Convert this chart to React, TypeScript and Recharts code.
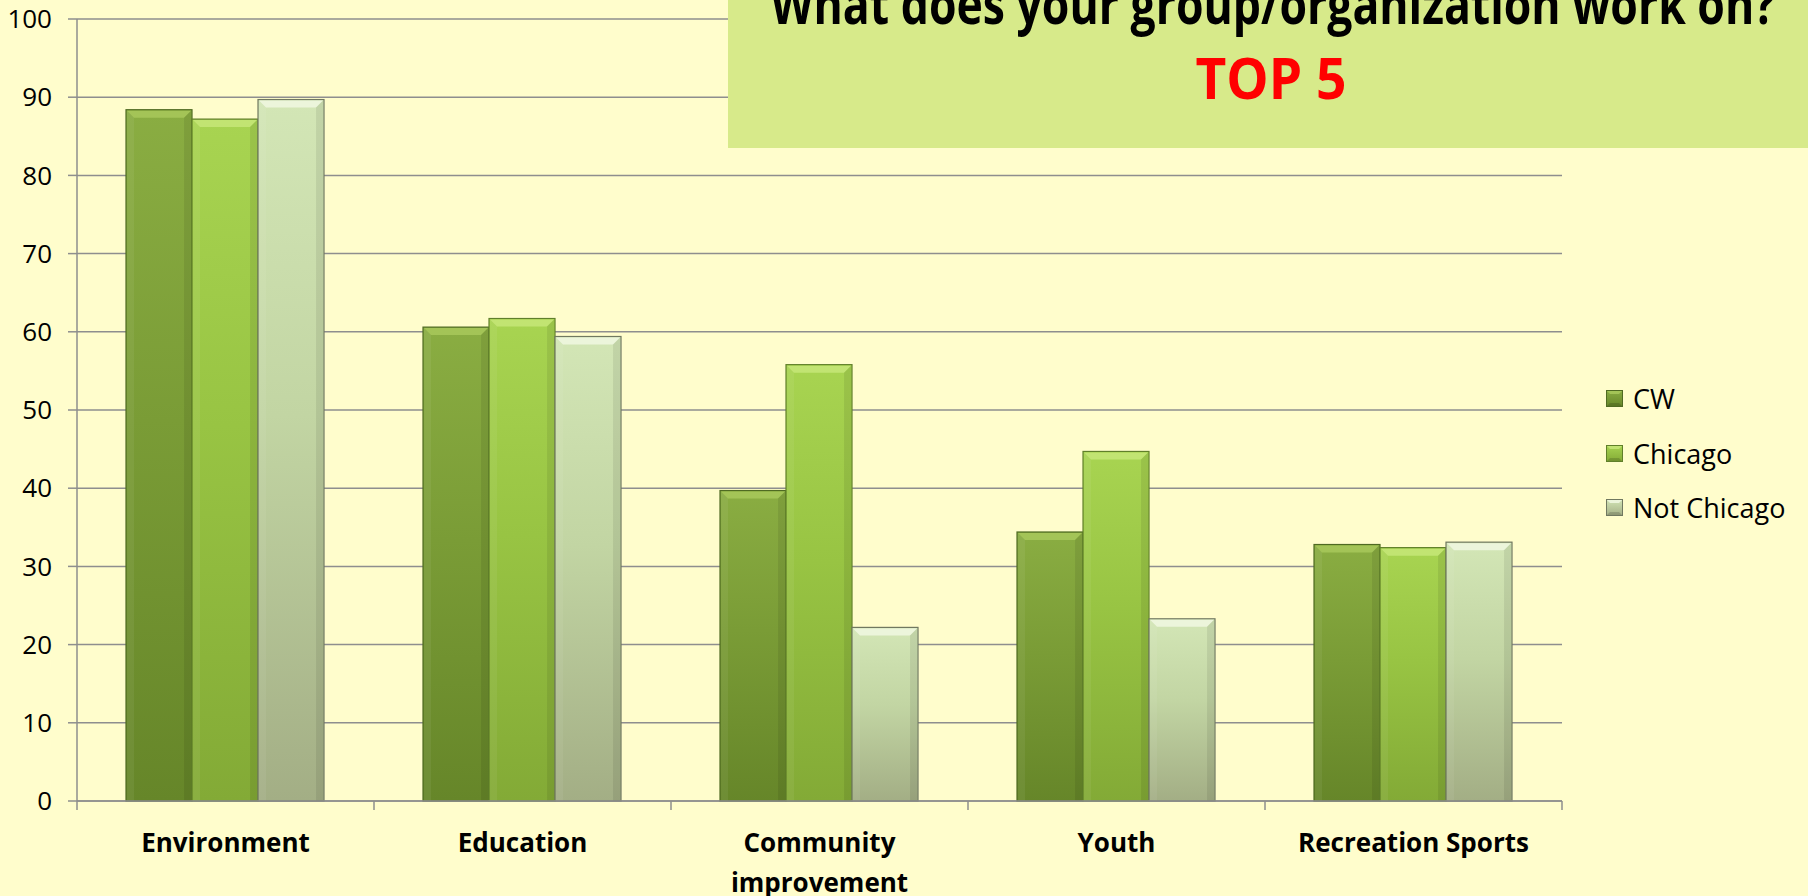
import React from 'react';
import { BarChart, Bar, XAxis, YAxis, CartesianGrid } from 'recharts';

const categories = ['Environment', 'Education', 'Community improvement', 'Youth', 'Recreation Sports'];
const cwValues = [88.4, 60.6, 39.7, 34.4, 32.8];
const chicagoValues = [87.2, 61.7, 55.8, 44.7, 32.4];
const notChicagoValues = [89.7, 59.4, 22.2, 23.3, 33.1];
const seriesNames = ['CW', 'Chicago', 'Not Chicago'];
const yTicks = [0, 10, 20, 30, 40, 50, 60, 70, 80, 90, 100];
const titleLine = 'What does your group/organization work on?';
const subtitleLine = 'TOP 5';

const data = categories.map((c, i) => ({
  name: c,
  cw: cwValues[i],
  chicago: chicagoValues[i],
  notChicago: notChicagoValues[i],
}));

const W = 1808;
const H = 896;
const MARGIN = { top: 19, right: 246, bottom: 0, left: 0 };
const Y_AXIS_W = 77;
const X_AXIS_H = 95;
const PLOT_W = W - MARGIN.left - MARGIN.right - Y_AXIS_W;
const BAND = PLOT_W / categories.length;

const BG = '#FFFDCC';
const GRID = '#8e8e8e';
const FONT = "'Open Sans', 'Noto Sans', sans-serif";
const XFONT = `700 26px ${FONT}`;

const palette = [
  { top: '#8aad42', mid: '#7a9c36', bot: '#668629', bevel: '#a6c65a', border: '#4f6a22' },
  { top: '#a8d451', mid: '#98c443', bot: '#83aa36', bevel: '#c4e675', border: '#607f2a' },
  { top: '#d3e6b6', mid: '#c2d5a3', bot: '#a3ae85', bevel: '#eef6df', border: '#707860' },
];

let measureCtx: CanvasRenderingContext2D | null = null;
function textWidth(s: string): number {
  if (typeof document === 'undefined') return s.length * 15;
  if (!measureCtx) {
    const c = document.createElement('canvas');
    measureCtx = c.getContext('2d');
  }
  if (!measureCtx) return s.length * 15;
  measureCtx.font = XFONT;
  return measureCtx.measureText(s).width;
}

function wrapLabel(label: string, maxW: number): string[] {
  const words = label.split(' ');
  const lines: string[] = [];
  let cur = '';
  for (const w of words) {
    const t = cur ? cur + ' ' + w : w;
    if (cur && textWidth(t) > maxW) {
      lines.push(cur);
      cur = w;
    } else {
      cur = t;
    }
  }
  if (cur) lines.push(cur);
  return lines;
}

function BevelBar(props: any) {
  const { x, y, width, height, s } = props;
  if (!width || !height || height <= 0) return null;
  const c = palette[s];
  const b = Math.min(8, height / 2, width / 2);
  return (
    <g>
      <rect x={x} y={y} width={width} height={height} fill={`url(#grad${s})`} stroke={c.border} strokeWidth={1.2} />
      <polygon
        points={`${x + 1},${y + 1} ${x + width - 1},${y + 1} ${x + width - b},${y + b} ${x + b},${y + b}`}
        fill={c.bevel}
        opacity={0.9}
      />
      <polygon
        points={`${x + 1},${y + 1} ${x + b},${y + b} ${x + b},${y + height} ${x + 1},${y + height}`}
        fill="#ffffff"
        opacity={0.06}
      />
      <polygon
        points={`${x + width - 1},${y + 1} ${x + width - b},${y + b} ${x + width - b},${y + height} ${x + width - 1},${y + height}`}
        fill="#000000"
        opacity={0.08}
      />
    </g>
  );
}

function XTick(props: any) {
  const { x, y, payload, index } = props;
  const half = BAND / 2;
  const lines = wrapLabel(String(payload.value), BAND - 20);
  return (
    <g>
      <line x1={x - half} y1={y} x2={x - half} y2={y + 9} stroke={GRID} strokeWidth={1.5} />
      {index === categories.length - 1 && (
        <line x1={x + half} y1={y} x2={x + half} y2={y + 9} stroke={GRID} strokeWidth={1.5} />
      )}
      <text
        x={x}
        y={y + 51}
        textAnchor="middle"
        fill="#000"
        style={{ fontSize: 26, fontWeight: 700, fontFamily: FONT }}
      >
        {lines.map((l, i) => (
          <tspan key={i} x={x} dy={i === 0 ? 0 : 40}>
            {l}
          </tspan>
        ))}
      </text>
    </g>
  );
}

function LegendBox() {
  return (
    <div
      style={{
        position: 'absolute',
        left: 1606,
        top: 371,
        fontFamily: FONT,
        fontSize: 27,
        color: '#000',
        lineHeight: 1,
      }}
    >
      {seriesNames.map((n, i) => (
        <div key={n} style={{ display: 'flex', alignItems: 'center', height: 54.7 }}>
          <svg width={17} height={17} style={{ marginRight: 10, flex: 'none' }}>
            <defs>
              <linearGradient id={`lgrad${i}`} x1="0" y1="0" x2="0" y2="1">
                <stop offset="0%" stopColor={palette[i].top} />
                <stop offset="100%" stopColor={palette[i].bot} />
              </linearGradient>
            </defs>
            <rect x={0} y={0} width={17} height={17} fill={`url(#lgrad${i})`} />
            <polygon points="0,0 17,0 13,4 4,4" fill={palette[i].bevel} opacity={0.9} />
            <polygon points="0,17 17,17 13,13 4,13" fill="#000" opacity={0.15} />
            <rect x={0.5} y={0.5} width={16} height={16} fill="none" stroke={palette[i].border} strokeWidth={1} />
          </svg>
          <span style={{ whiteSpace: 'nowrap' }}>{n}</span>
        </div>
      ))}
    </div>
  );
}

export default function App() {
  return (
    <div style={{ position: 'absolute', left: 0, top: 0, width: W, height: H, background: BG, overflow: 'hidden' }}>
      <BarChart
        width={W}
        height={H}
        data={data}
        margin={MARGIN}
        barGap={0}
        barCategoryGap="16.5%"
      >
        <defs>
          {palette.map((c, i) => (
            <linearGradient key={i} id={`grad${i}`} x1="0" y1="0" x2="0" y2="1">
              <stop offset="0%" stopColor={c.top} />
              <stop offset="45%" stopColor={c.mid} />
              <stop offset="100%" stopColor={c.bot} />
            </linearGradient>
          ))}
        </defs>
        <CartesianGrid vertical={false} stroke={GRID} strokeWidth={1.5} />
        <XAxis
          dataKey="name"
          interval={0}
          height={X_AXIS_H}
          tickLine={false}
          tickSize={0}
          tickMargin={0}
          axisLine={{ stroke: GRID, strokeWidth: 1.5 }}
          tick={<XTick />}
        />
        <YAxis
          domain={[0, 100]}
          ticks={yTicks}
          width={Y_AXIS_W}
          tickSize={9}
          tickMargin={16}
          interval={0}
          axisLine={{ stroke: GRID, strokeWidth: 1.5 }}
          tickLine={{ stroke: GRID, strokeWidth: 1.5 }}
          tick={{ fill: '#000', fontSize: 26, fontFamily: FONT }}
        />
        <Bar dataKey="cw" name={seriesNames[0]} isAnimationActive={false} shape={(p: any) => <BevelBar {...p} s={0} />} />
        <Bar dataKey="chicago" name={seriesNames[1]} isAnimationActive={false} shape={(p: any) => <BevelBar {...p} s={1} />} />
        <Bar dataKey="notChicago" name={seriesNames[2]} isAnimationActive={false} shape={(p: any) => <BevelBar {...p} s={2} />} />
      </BarChart>
      <LegendBox />
      <svg
        width={W - 728}
        height={148}
        style={{ position: 'absolute', left: 728, top: 0 }}
      >
        <rect x={0} y={0} width={W - 728} height={148} fill="#D7EA8A" />
        <text
          x={1273 - 728}
          y={24}
          textAnchor="middle"
          fontFamily="'Liberation Sans Narrow', 'Open Sans', sans-serif"
          fontWeight={700}
          fontSize={56}
          fill="#000"
          textLength={1005}
          lengthAdjust="spacingAndGlyphs"
        >
          {titleLine}
        </text>
        <text
          x={1271 - 728}
          y={99}
          textAnchor="middle"
          fontFamily="'Liberation Sans Narrow', 'Open Sans', sans-serif"
          fontWeight={700}
          fontSize={57}
          fill="#FF0000"
          textLength={151}
          lengthAdjust="spacingAndGlyphs"
        >
          {subtitleLine}
        </text>
      </svg>
    </div>
  );
}
